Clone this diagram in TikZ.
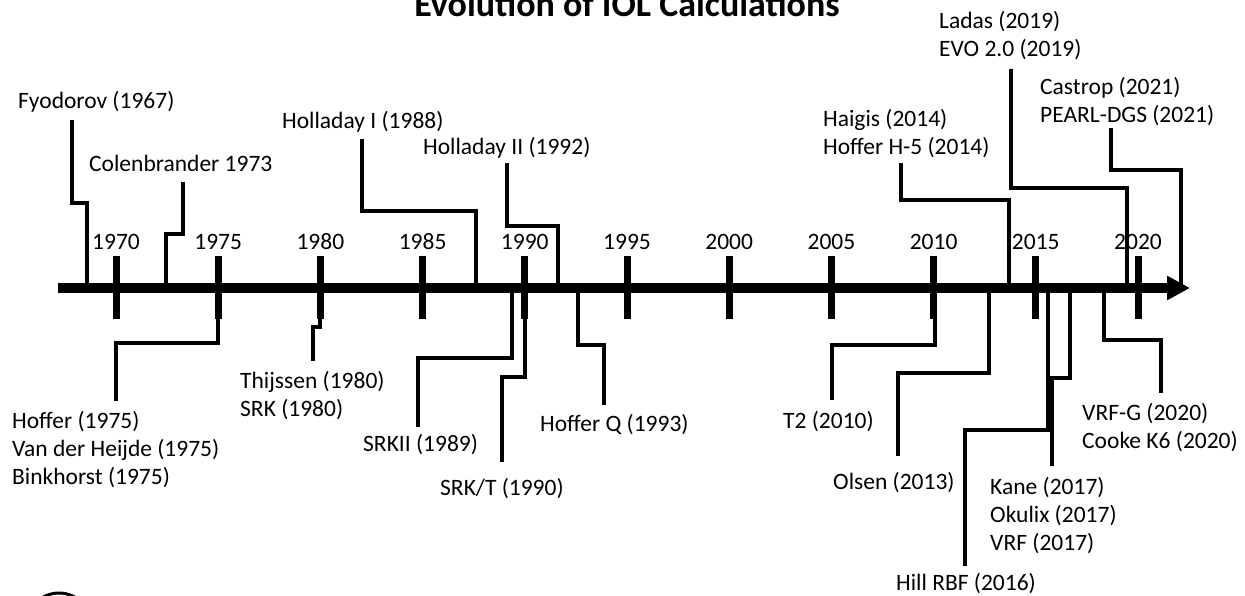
\documentclass[tikz,border=0pt]{standalone}
\usepackage{fontspec}
\setmainfont{Carlito}
\usetikzlibrary{arrows.meta, positioning, calc}

\begin{document}
\begin{tikzpicture}[x=1pt, y=-1pt,
    evt/.style={anchor=west, inner sep=0pt, align=left, font=\fontsize{23.5}{28}\selectfont},
    conn/.style={line width=3.3pt}]
    \useasboundingbox (0,0) rectangle (1245,596);
    \node[anchor=base, font=\fontsize{36}{40}\selectfont\bfseries] (title) at (627,17) {Evolution of IOL Calculations};

    \draw[line width=9.5pt, -{Triangle[length=23pt, width=23pt]}] (58,288) -- (1190,288);
    \foreach \yr [count=\i from 0] in {1970,1975,...,2020} {
        \draw[line width=7pt] (116+\i*102.2,256) -- (116+\i*102.2,319);
        \node[font=\fontsize{23.5}{28}\selectfont] (y\yr) at (116+\i*102.2,242) {\yr};
    }

    \node[evt] (fyo) at (18,102) {Fyodorov (1967)};
    \node[evt] (col) at (89,163) {Colenbrander 1973};
    \node[evt] (hol1) at (282,122) {Holladay I (1988)};
    \node[evt] (hol2) at (423,148) {Holladay II (1992)};
    \node[evt] (hai) at (823,134) {Haigis (2014)\\Hoffer H-5 (2014)};
    \node[evt] (lad) at (939,36) {Ladas (2019)\\EVO 2.0 (2019)};
    \node[evt] (cas) at (1040,102) {Castrop (2021)\\PEARL-DGS (2021)};
    \node[evt] (hof) at (12,450) {Hoffer (1975)\\Van der Heijde (1975)\\Binkhorst (1975)};
    \node[evt] (thi) at (240,396) {Thijssen (1980)\\SRK (1980)};
    \node[evt] (srk2) at (363,445) {SRKII (1989)};
    \node[evt] (srkt) at (440,489) {SRK/T (1990)};
    \node[evt] (hq) at (540,425) {Hoffer Q (1993)};
    \node[evt] (t2) at (783,422) {T2 (2010)};
    \node[evt] (ols) at (833,483) {Olsen (2013)};
    \node[evt] (hill) at (896,584) {Hill RBF (2016)};
    \node[evt] (kane) at (990,516) {Kane (2017)\\Okulix (2017)\\VRF (2017)};
    \node[evt] (vrfg) at (1082,428) {VRF-G (2020)\\Cooke K6 (2020)};

    \foreach \n/\ax/\my/\lx/\ly in {fyo/87/203/72/120, col/166/234/183/182, hol1/476/211/362/139,
        hol2/558/226/507/163, hai/1009/200/901/163, lad/1127/188/1011/69, cas/1181/170/1111/128,
        hof/218/343/116/401, thi/320/327/313/361, srk2/512/358/418/427, srkt/525/377/502/462,
        hq/578/345/604/405, t2/935/345/832/400, ols/989/373/898/456, hill/1048/430/965/566,
        kane/1070/378/1052/466, vrfg/1104/340/1161/393} {
        \coordinate (\n-a) at (\ax,288);
        \coordinate (\n-t) at (\lx,\ly);
        \draw[conn] (\n-a) -- (\ax,\my) -| (\n-t);
    }

    \draw[line width=3pt] (59,625) circle[radius=32pt];
\end{tikzpicture}
\end{document}
